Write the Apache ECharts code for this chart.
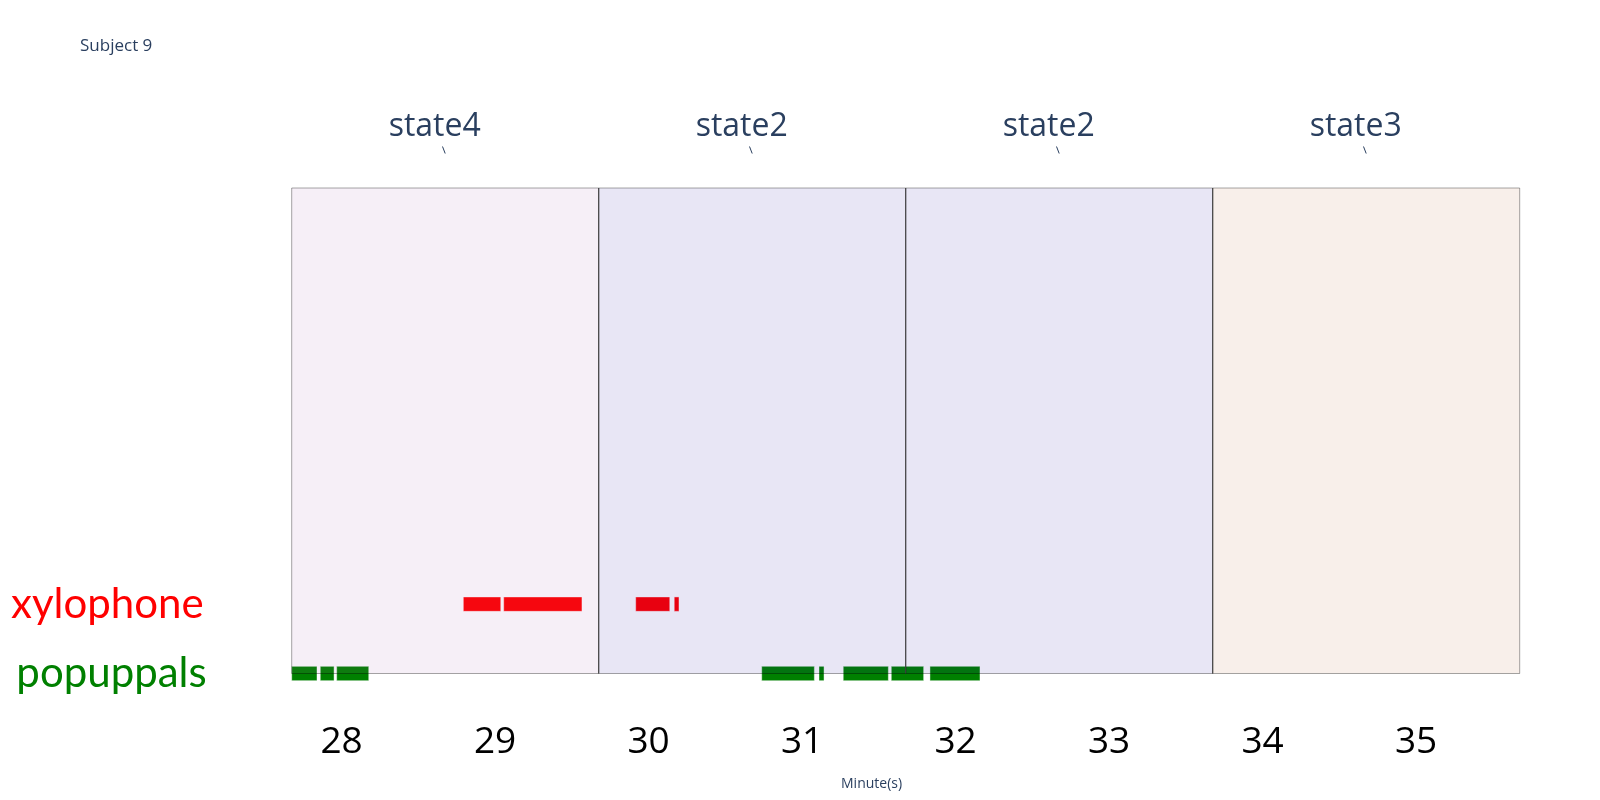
<!DOCTYPE html>
<html>
<head>
<meta charset="utf-8">
<title>Subject 9</title>
<script src="https://cdn.jsdelivr.net/npm/echarts@6.0.0/dist/echarts.min.js"></script>
<style>
  html, body { margin: 0; padding: 0; background: #fff; }
  #chart { width: 1600px; height: 800px; }
</style>
</head>
<body>
<div id="chart"></div>
<script>
// rows on the y axis (bottom to top)
var rowNames = ['popuppals', 'xylophone'];

// state bands, in minutes
var stateNames = ['state4', 'state2', 'state2', 'state3'];
var stateStart = [27.675, 29.675, 31.675, 33.675];
var stateEnd = [29.675, 31.675, 33.675, 35.675];

// xylophone segments (row 1)
var xyloStart = [28.793, 29.056, 29.916, 30.167];
var xyloEnd = [29.037, 29.566, 30.138, 30.198];

// popuppals segments (row 0)
var popStart = [27.675, 27.861, 27.968, 30.737, 31.110, 31.268, 31.581, 31.833];
var popEnd = [27.840, 27.951, 28.177, 31.080, 31.143, 31.562, 31.792, 32.159];

var minuteTicks = [28, 29, 30, 31, 32, 33, 34, 35];

var xMin = 27.675, xMax = 35.675;
var yMin = 0, yMax = 7;

var rowColors = ['#008000', '#ff0000'];
var bandColors = {
    state4: 'rgba(160,80,170,0.09)',
    state2: 'rgba(30,10,160,0.1)',
    state3: 'rgba(185,95,45,0.1)'
};

function segs(starts, ends, row) {
    return starts.map(function(s, i) { return [s, ends[i], row]; });
}

var bands = stateStart.map(function(s, i) { return [s, stateEnd[i], i]; });

function renderSegment(params, api) {
    var row = api.value(2);
    var p1 = api.coord([api.value(0), row]);
    var p2 = api.coord([api.value(1), row]);
    return {
        type: 'rect',
        shape: { x: p1[0], y: p1[1] - 7.2, width: p2[0] - p1[0], height: 14.4 },
        style: { fill: rowColors[row], stroke: 'rgba(255,255,255,0.45)', lineWidth: 1 }
    };
}

function renderBand(params, api) {
    var idx = api.value(2);
    var tl = api.coord([api.value(0), yMax]);
    var br = api.coord([api.value(1), yMin]);
    var cx = (tl[0] + br[0]) / 2;
    var children = [{
        type: 'rect',
        shape: { x: tl[0], y: tl[1], width: br[0] - tl[0], height: br[1] - tl[1] },
        style: { fill: bandColors[stateNames[idx]], stroke: 'rgba(0,0,0,0.35)', lineWidth: 1 }
    }];
    if (idx > 0) {
        children.push({
            type: 'line',
            shape: { x1: tl[0], y1: tl[1], x2: tl[0], y2: br[1] },
            style: { stroke: '#444', lineWidth: 1 }
        });
    }
    children.push({
        type: 'text',
        style: {
            x: cx - 10.5, y: tl[1] - 61,
            text: stateNames[idx],
            fill: '#2a3f5f',
            font: '32px "Open Sans"',
            align: 'center', verticalAlign: 'middle'
        }
    });
    children.push({
        type: 'line',
        shape: { x1: cx - 2.7, y1: tl[1] - 41.5, x2: cx, y2: tl[1] - 34.5 },
        style: { stroke: '#2a3f5f', lineWidth: 1 }
    });
    return { type: 'group', children: children };
}

var chart = echarts.init(document.getElementById('chart'));

chart.setOption({
    animation: false,
    backgroundColor: '#fff',
    title: {
        text: 'Subject 9',
        left: 75,
        top: 33,
        textStyle: { fontFamily: 'Open Sans', fontSize: 17, fontWeight: 'normal', color: '#2a3f5f' }
    },
    grid: { left: 291.7, right: 80.3, top: 188, bottom: 126.5, containLabel: false },
    xAxis: {
        type: 'value',
        min: xMin,
        max: xMax,
        axisLine: { show: false },
        axisTick: { show: false },
        splitLine: { show: false },
        axisLabel: {
            customValues: minuteTicks,
            margin: 50,
            fontFamily: 'Open Sans',
            fontSize: 37,
            color: '#000'
        }
    },
    yAxis: {
        type: 'value',
        min: yMin,
        max: yMax,
        axisLine: { show: false },
        axisTick: { show: false },
        splitLine: { show: false },
        axisLabel: {
            customValues: [0, 1],
            margin: 85,
            formatter: function(v) { return '{r' + v + '|' + rowNames[v] + '}'; },
            rich: {
                r0: { fontFamily: 'Lato', fontSize: 42, color: rowColors[0] },
                r1: { fontFamily: 'Lato', fontSize: 42, color: rowColors[1], padding: [0, 3, 0, 0] }
            }
        }
    },
    graphic: [{
        type: 'text',
        left: 841,
        top: 777,
        style: { text: 'Minute(s)', font: '14px "Open Sans"', fill: '#2a3f5f' }
    }],
    series: [{
        type: 'custom',
        name: 'xylophone',
        clip: false,
        z: 2,
        renderItem: renderSegment,
        encode: { x: [0, 1], y: 2 },
        data: segs(xyloStart, xyloEnd, 1)
    }, {
        type: 'custom',
        name: 'popuppals',
        clip: false,
        z: 2,
        renderItem: renderSegment,
        encode: { x: [0, 1], y: 2 },
        data: segs(popStart, popEnd, 0)
    }, {
        type: 'custom',
        name: 'states',
        clip: false,
        z: 5,
        silent: true,
        renderItem: renderBand,
        encode: { x: [0, 1] },
        data: bands
    }]
});
</script>
</body>
</html>
